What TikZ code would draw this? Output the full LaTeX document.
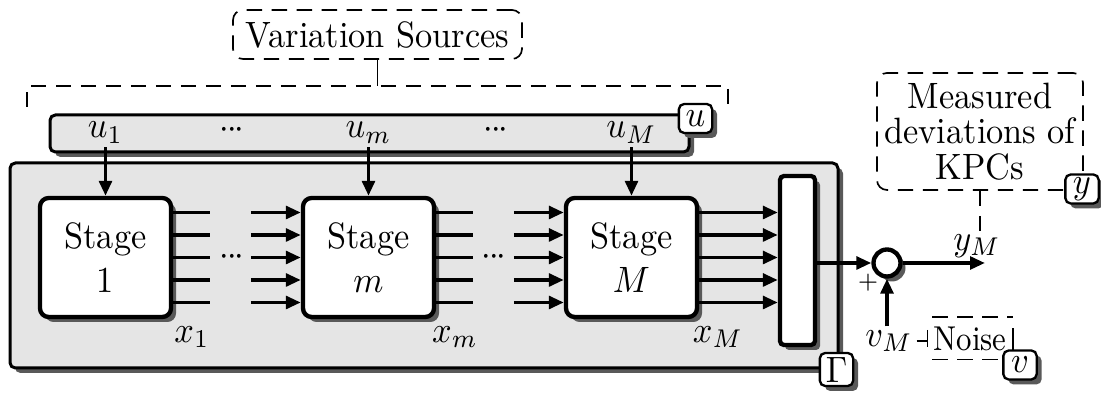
\documentclass[tikz,border=0pt]{standalone}
\usetikzlibrary{shadows,arrows.meta}
\newcommand{\st}[1]{\scalebox{1.03}[1.1]{#1}}
\newcommand{\mlt}[3]{\scalebox{1.03}[1.1]{\parbox{#1}{\centering\fontsize{10pt}{#2}\selectfont #3}}}
\newcommand{\tdots}{\st{$\mathord{\cdot}\mkern-1mu\mathord{\cdot}\mkern-1mu\mathord{\cdot}$}}
\begin{document}
\begin{tikzpicture}[x=0.3pt,y=-0.3pt,
  shad/.style={drop shadow={shadow xshift=1.5pt,shadow yshift=-1.5pt,fill=black!65,opacity=1}},
  graybox/.style={draw,line width=0.9pt,fill=black!10,rounded corners=1.6pt,inner sep=0pt,shad},
  stagebox/.style={draw,line width=1.3pt,fill=white,rounded corners=2.6pt,minimum width=39.3pt,minimum height=35.7pt,align=center,inner sep=0pt,shad},
  tagbox/.style={draw,line width=0.7pt,fill=white,rounded corners=1.6pt,minimum width=10pt,minimum height=8.7pt,inner sep=0.8pt,shad},
  dbox/.style={draw,dash pattern=on 4.6pt off 2.9pt,line width=0.5pt,rounded corners=3pt,inner sep=0pt,align=center},
  dline/.style={dash pattern=on 4.6pt off 2.9pt,line width=0.5pt},
  arr/.style={line width=1.1pt,-{Triangle[length=4.5pt,width=3.8pt]}},
  ln/.style={line width=1.1pt},
  lab/.style={inner sep=1pt},
]
\useasboundingbox (0,0) rectangle (1101,399);

% variation sources and bracket
\node[dbox,minimum width=86.7pt,minimum height=14.7pt] (vs) at (377.5,34.5) {\st{Variation Sources}};
\coordinate (bl) at (27,107);
\coordinate (tl) at (27,86);
\coordinate (tr) at (728,86);
\coordinate (br) at (728,107);
\draw[dline] (bl) -- (tl) -- (tr) -- (br);
\draw[line width=0.5pt] (vs.south) -- (vs.south |- tl);

% process box and input bar
\node[graybox,minimum width=248.4pt,minimum height=61.5pt] (gam) at (424,265.5) {};
\node[graybox,minimum width=191.7pt,minimum height=11.1pt] (ubar) at (369.5,133.5) {};
\node[tagbox] (ut) at (695.5,118.5) {\st{$u$}};

\node[lab,anchor=base] (u1) at (105.5,138) {\st{$u_1$}};
\node[lab,anchor=base] (um) at (368.5,138) {\st{$u_m$}};
\node[lab,anchor=base] (uM) at (631.5,138) {\st{$u_M$}};
\node[lab,anchor=base] (ud1) at (232,139) {\tdots};
\node[lab,anchor=base] (ud2) at (496,139) {\tdots};

% stages
\node[stagebox] (s1) at (105.5,257.5) {\mlt{38pt}{12pt}{Stage\\1}};
\node[stagebox] (sm) at (368.5,257.5) {\mlt{38pt}{12pt}{Stage\\$m$}};
\node[stagebox] (sM) at (631.5,257.5) {\mlt{38pt}{12pt}{Stage\\$M$}};
\node[draw,line width=1.3pt,fill=white,rounded corners=1.2pt,minimum width=10.5pt,minimum height=50.7pt,inner sep=0pt,shad] (agg) at (797.5,260.5) {};

\draw[arr] (u1.south) -- (s1.north);
\draw[arr] (um.south) -- (sm.north);
\draw[arr] (uM.south) -- (sM.north);

\foreach \dy in {13.5,6.75,0,-6.75,-13.5}{
  \draw[ln] ([yshift=\dy pt]s1.east) -- ++(37,0);
  \draw[arr] ([yshift=\dy pt]sm.west) ++(-50,0) -- ([yshift=\dy pt]sm.west);
  \draw[ln] ([yshift=\dy pt]sm.east) -- ++(37,0);
  \draw[arr] ([yshift=\dy pt]sM.west) ++(-50,0) -- ([yshift=\dy pt]sM.west);
  \path ([yshift=\dy pt]sM.east) coordinate (o);
  \draw[arr] (o) -- (o -| agg.west);
}
\node[lab] (cd1) at (232,257) {\tdots};
\node[lab] (cd2) at (494,257) {\tdots};

\node[lab] (x1) at (192,337) {\st{$x_1$}};
\node[lab] (xm) at (455,337) {\st{$x_m$}};
\node[lab] (xM) at (718,337) {\st{$x_M$}};

\node[tagbox,minimum height=9.9pt] (gt) at (836.5,369.5) {\st{$\Gamma$}};

% output side
\node[circle,draw,line width=1.3pt,fill=white,minimum size=8.1pt,inner sep=0pt,shad] (sum) at (887,263) {};
\draw[arr] (agg.east |- sum) -- (sum.west);
\coordinate (yend) at (985,263);
\draw[arr] (sum.east) -- (yend);
\node[lab] (yM) at (977,246) {\st{$y_M$}};
\node[lab,font=\scriptsize] (plus) at (868,283) {$+$};

\node[dbox,minimum width=61.8pt,minimum height=35.1pt] (meas) at (980,131.5) {\mlt{60pt}{9.6pt}{Measured\\deviations of\\KPCs}};
\node[tagbox] (yt) at (1082,189) {\st{$y$}};
\coordinate (mend) at (980,233);
\draw[dline] (meas.south) -- (mend);

\node[lab] (vM) at (889,341) {\st{$v_M$}};
\draw[arr] (vM.north -| sum.south) -- (sum.south);
\node[inner sep=0pt,minimum width=25.2pt,minimum height=12.3pt] (noise) at (970,338.5) {\scalebox{1}[1.15]{\small Noise}};
\draw[dline,dash phase=6pt] (noise.north west) -- (noise.north east);
\draw[dline,dash phase=6pt] (noise.south west) -- (noise.south east);
\draw[line width=0.5pt] ([yshift=2.6pt]noise.west) -- ([yshift=-2.6pt]noise.west);
\draw[line width=0.5pt] ([yshift=3pt]noise.east) -- ([yshift=-3.6pt]noise.east);
\draw[line width=0.5pt] (vM.east) -- (vM.east -| noise.west);
\node[tagbox] (vt) at (1020,365) {\st{$v$}};
\end{tikzpicture}
\end{document}
